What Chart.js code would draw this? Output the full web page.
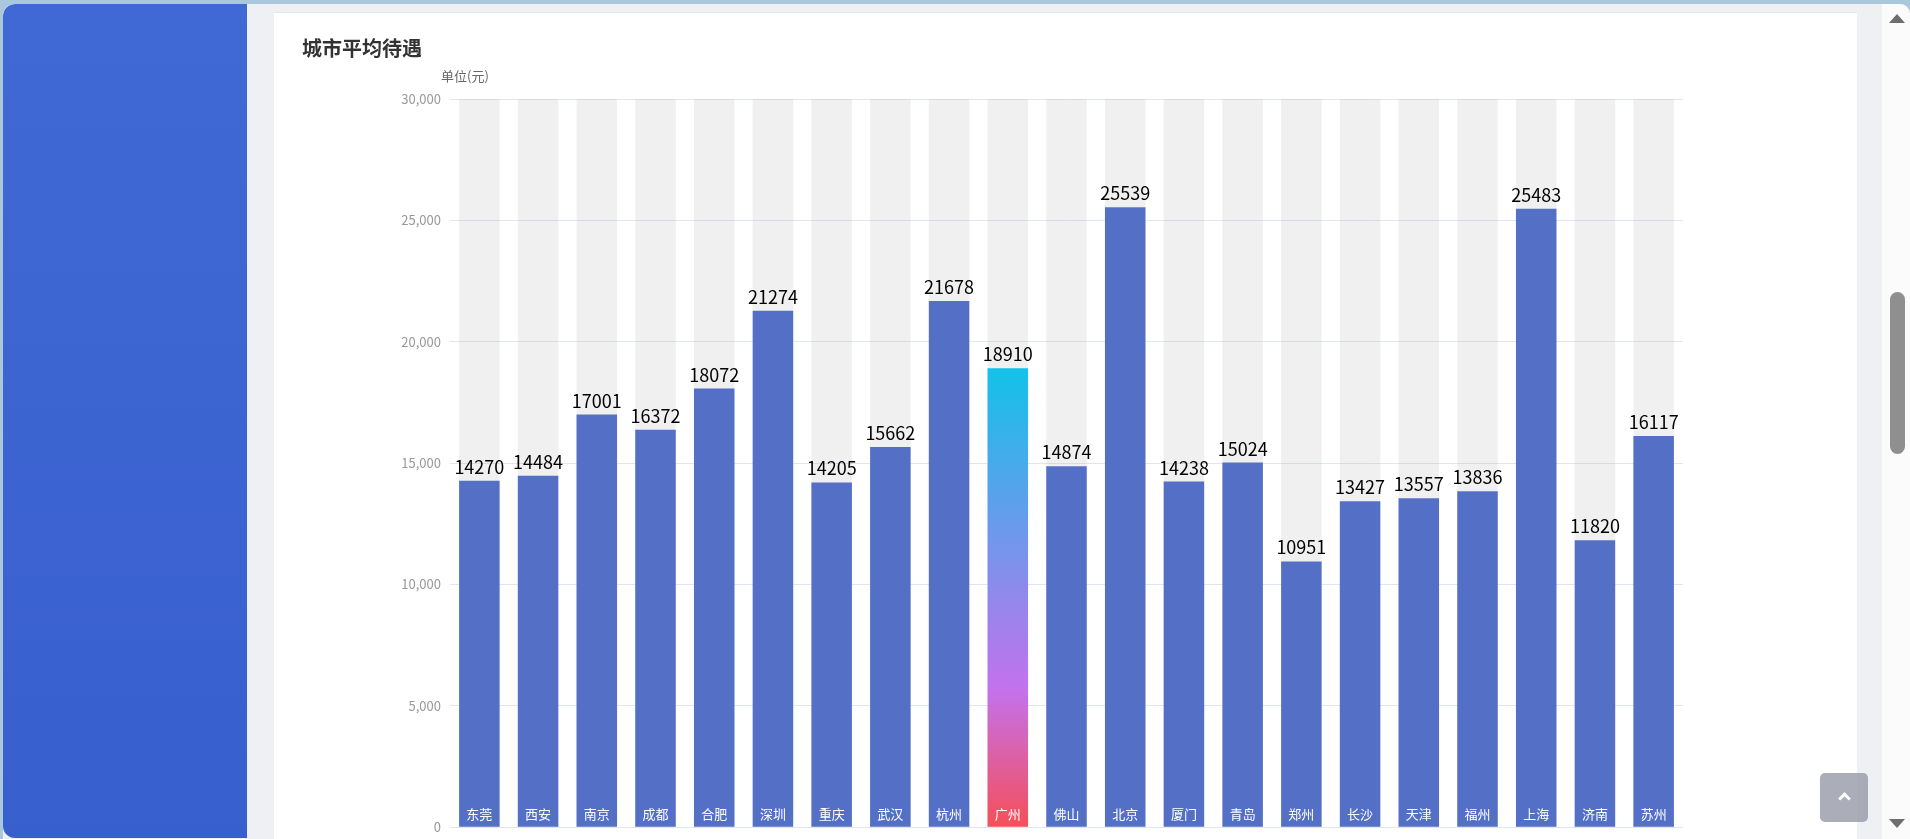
<!DOCTYPE html>
<html lang="zh-CN">
<head>
<meta charset="utf-8">
<title>城市平均待遇</title>
<script src="https://cdn.jsdelivr.net/npm/chart.js@4.4.1/dist/chart.umd.min.js"></script>
<style>
    html, body { margin: 0; padding: 0; width: 1910px; height: 839px; overflow: hidden; background: #a9c8dc; font-family: "Noto Sans CJK SC", "Noto Sans", sans-serif; }
    .frame { position: absolute; left: 3px; top: 4px; width: 1907px; height: 835px; background: #eef0f4; border-top-left-radius: 12px; border-top-right-radius: 10px; overflow: hidden; }
    .side { position: absolute; left: 0; top: 0; width: 244px; height: 834px; background: linear-gradient(#4169d5, #385fce); border-radius: 12px 0 0 12px; }
    .card { position: absolute; left: 271px; top: 8px; width: 1583px; height: 840px; background: #fff; border-top: 1px solid #e3e7ee; }
    .title { position: absolute; left: 28px; top: 20px; font-size: 20px; font-weight: bold; color: #333; }
    .unit { position: absolute; left: 167px; top: 53px; font-size: 13px; color: #666; }
    .chart-box { position: absolute; left: 0; top: 0; width: 1583px; height: 831px; }
    .totop { position: absolute; left: 1817px; top: 769px; width: 48px; height: 49px; background: rgba(150,152,166,0.8); border-radius: 5px; }
    .totop::after { content: ""; position: absolute; left: 20px; top: 21px; width: 6px; height: 6px; border-left: 3px solid #fff; border-top: 3px solid #fff; transform: rotate(45deg); }
    .scroll { position: absolute; left: 1879px; top: 0; width: 28px; height: 835px; background: #fbfbfb; }
    .thumb { position: absolute; left: 8px; top: 288px; width: 15px; height: 162px; background: #8f8f8f; border-radius: 8px; }
    .arr-up { position: absolute; left: 7px; top: 10px; width: 0; height: 0; border-left: 8px solid transparent; border-right: 8px solid transparent; border-bottom: 9px solid #6e6e6e; }
    .arr-down { position: absolute; left: 7px; top: 815px; width: 0; height: 0; border-left: 8px solid transparent; border-right: 8px solid transparent; border-top: 9px solid #6e6e6e; }
</style>
</head>
<body>
<div class="frame">
    <div class="side"></div>
    <div class="card">
        <div class="chart-box"><canvas id="graficoCitta"></canvas></div>
        <div class="title">城市平均待遇</div>
        <div class="unit">单位(元)</div>
    </div>
    <div class="totop"></div>
    <div class="scroll">
        <div class="arr-up"></div>
        <div class="thumb"></div>
        <div class="arr-down"></div>
    </div>
</div>
<script>
const citta = ['东莞', '西安', '南京', '成都', '合肥', '深圳', '重庆', '武汉', '杭州', '广州', '佛山',
    '北京', '厦门', '青岛', '郑州', '长沙', '天津', '福州', '上海', '济南', '苏州'];
const stipendi = [14270, 14484, 17001, 16372, 18072, 21274, 14205, 15662, 21678, 18910, 14874,
    25539, 14238, 15024, 10951, 13427, 13557, 13836, 25483, 11820, 16117];
const yTicks = [0, 5000, 10000, 15000, 20000, 25000, 30000];
const cittaEvidenziata = '广州';

const yMax = yTicks[yTicks.length - 1];
const sfondo = citta.map(() => yMax);   // barre grigie di sfondo

function coloreBarra(ctx) {
    if (citta[ctx.dataIndex] !== cittaEvidenziata) return '#5470c6';
    const y = ctx.chart.scales.y;
    if (!y) return '#5470c6';
    const top = y.getPixelForValue(stipendi[ctx.dataIndex]);
    const base = y.getPixelForValue(0);
    const g = ctx.chart.ctx.createLinearGradient(0, top, 0, base);
    g.addColorStop(0, '#12c2e9');
    g.addColorStop(0.7, '#c471ed');
    g.addColorStop(1, '#f64f59');
    return g;
}

// etichette: valore sopra la barra, città in basso dentro la barra
const etichette = {
    id: 'etichette',
    afterDatasetsDraw(chart) {
        const c = chart.ctx;
        const meta = chart.getDatasetMeta(0);
        c.save();
        c.textAlign = 'center';
        meta.data.forEach((bar, i) => {
            c.fillStyle = '#000';
            c.font = '18px "Noto Sans CJK SC", "Noto Sans", sans-serif';
            c.textBaseline = 'alphabetic';
            c.fillText(String(stipendi[i]), bar.x, bar.y - 7);
            c.fillStyle = '#fff';
            c.font = '13px "Noto Sans CJK SC", sans-serif';
            c.textBaseline = 'middle';
            c.fillText(citta[i], bar.x, bar.base - 13);
        });
        c.restore();
    }
};

new Chart(document.getElementById('graficoCitta'), {
    type: 'bar',
    data: {
        labels: citta,
        datasets: [{
            data: stipendi,
            backgroundColor: coloreBarra,
            grouped: false,
            order: 1
        }, {
            data: sfondo,
            backgroundColor: 'rgba(180, 180, 180, 0.2)',
            grouped: false,
            order: 2
        }]
    },
    options: {
        responsive: true,
        maintainAspectRatio: false,
        animation: false,
        categoryPercentage: 1,
        barPercentage: 0.69,
        layout: { padding: { top: 86, right: 174, bottom: 8, left: 0 } },
        plugins: { legend: { display: false }, tooltip: { enabled: false } },
        scales: {
            x: { display: false },
            y: {
                min: 0,
                max: yMax,
                afterFit: scale => { scale.width = 176; },
                afterBuildTicks: scale => { scale.ticks = yTicks.map(v => ({ value: v })); },
                border: { display: false },
                grid: { color: '#e0e6f1', drawTicks: false },
                ticks: {
                    color: '#999',
                    font: { size: 13, family: '"Noto Sans CJK SC", sans-serif' },
                    padding: 9,
                    callback: v => v.toLocaleString('en-US')
                }
            }
        }
    },
    plugins: [etichette]
});
</script>
</body>
</html>
